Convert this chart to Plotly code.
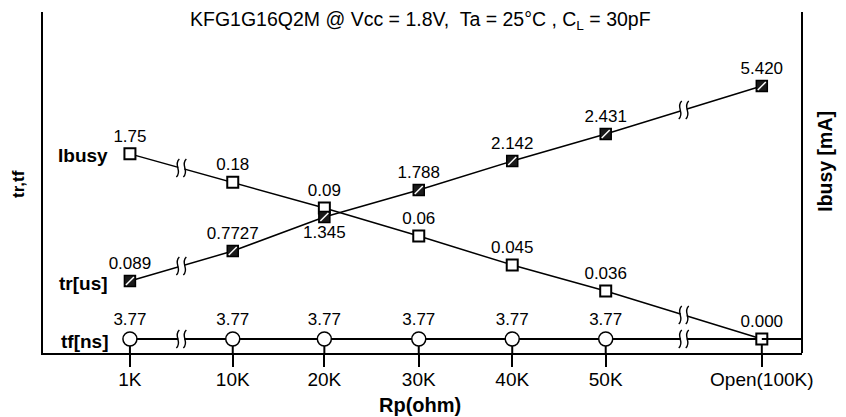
import plotly.graph_objects as go

# Rp categories and their (uneven) positions along the schematic x axis
rp_labels = ["1K", "10K", "20K", "30K", "40K", "50K", "Open(100K)"]
rp_pos = [0, 1.1, 2.08, 3.09, 4.09, 5.09, 6.76]

# measured values (printed next to the markers)
ibusy_vals = ["1.75", "0.18", "0.09", "0.06", "0.045", "0.036", "0.000"]
tr_vals = ["0.089", "0.7727", "1.345", "1.788", "2.142", "2.431", "5.420"]
tf_vals = ["3.77", "3.77", "3.77", "3.77", "3.77", "3.77"]

# schematic heights of each curve (the chart is not drawn to scale)
ibusy_lvl = [5.84, 5.01, 4.25, 3.43, 2.58, 1.82, 0.41]
tr_lvl = [2.11, 2.99, 3.99, 4.78, 5.63, 6.42, 7.83]
tf_lvl = [0.41, 0.41, 0.41, 0.41, 0.41, 0.41, 0.41]

X_RANGE = [-0.93, 7.19]
Y_RANGE = [0, 10]
FONT = "Liberation Sans, Arial, sans-serif"
VAL_SIZE = 17

fig = go.Figure()

# tf baseline, with a drop line from each point down to the axis
fig.add_trace(go.Scatter(
    x=rp_pos, y=tf_lvl, mode="lines", hoverinfo="skip",
    line=dict(color="black", width=2),
    error_y=dict(type="data", symmetric=False, array=[0] * len(tf_lvl),
                 arrayminus=tf_lvl, color="black", thickness=2, width=0),
))
# tf circles (none at Open, where the Ibusy square sits)
n_tf = len(tf_vals)
fig.add_trace(go.Scatter(
    x=rp_pos[:n_tf], y=tf_lvl[:n_tf], mode="markers+text",
    text=tf_vals, textposition="top center",
    textfont=dict(size=VAL_SIZE, color="black"),
    marker=dict(symbol="circle", size=14, color="white", opacity=1,
                line=dict(color="black", width=1.5)),
))

# Ibusy
fig.add_trace(go.Scatter(
    x=rp_pos, y=ibusy_lvl, mode="lines+markers+text",
    text=ibusy_vals, textposition="top center",
    textfont=dict(size=VAL_SIZE, color="black"),
    line=dict(color="black", width=1.5),
    marker=dict(symbol="square", size=11, color="white",
                line=dict(color="black", width=2)),
))

# tr
tr_textpos = ["top center"] * len(tr_vals)
tr_textpos[2] = "bottom center"
fig.add_trace(go.Scatter(
    x=rp_pos, y=tr_lvl, mode="lines+markers+text",
    text=tr_vals, textposition=tr_textpos,
    textfont=dict(size=VAL_SIZE, color="black"),
    line=dict(color="black", width=1.5),
    marker=dict(symbol="square", size=11, color="#1a1a1a",
                line=dict(color="black", width=1.5)),
))
# white diagonal stripe on the tr markers
fig.add_trace(go.Scatter(
    x=rp_pos, y=tr_lvl, mode="markers", hoverinfo="skip",
    marker=dict(symbol="line-ne", size=8, line=dict(color="white", width=1.5)),
))

shapes = [
    # tf line runs on to the right border
    dict(type="line", xref="x", yref="y", x0=rp_pos[-1], x1=X_RANGE[1],
         y0=tf_lvl[-1], y1=tf_lvl[-1], line=dict(color="black", width=2)),
    # right border
    dict(type="line", xref="paper", yref="paper", x0=1, x1=1, y0=0, y1=1,
         line=dict(color="black", width=2)),
]

# break marks ("≀≀") on the first and last segment of each curve
gap_path = "M -3,-5 L 3,-5 L 3,5 L -3,5 Z"
squiggle = "M {a},-9 C {b},-3 {c},3 {d},9"
for lvl in (ibusy_lvl, tr_lvl, tf_lvl):
    for i in (0, len(rp_pos) - 2):
        xm = (rp_pos[i] + rp_pos[i + 1]) / 2
        ym = (lvl[i] + lvl[i + 1]) / 2
        anchor = dict(xref="x", yref="y", xsizemode="pixel", ysizemode="pixel",
                      xanchor=xm, yanchor=ym)
        shapes.append(dict(type="path", path=gap_path, fillcolor="white",
                           line=dict(width=0), **anchor))
        for dx in (-3.5, 3.5):
            shapes.append(dict(
                type="path",
                path=squiggle.format(a=dx - 1.5, b=dx + 5, c=dx - 5, d=dx + 1.5),
                line=dict(color="black", width=1.4), **anchor))

annotations = []
# curve names at the left
for name, lvl in (("Ibusy", ibusy_lvl), ("tr[us]", tr_lvl), ("tf[ns]", tf_lvl)):
    annotations.append(dict(
        x=rp_pos[0], y=lvl[0], xref="x", yref="y", text=f"<b>{name}</b>",
        showarrow=False, xanchor="right", xshift=-20, yshift=-2,
        font=dict(family=FONT, size=19, color="black")))

annotations += [
    dict(x=0.498, y=0.9765, xref="paper", yref="paper", showarrow=False,
         xanchor="center", yanchor="middle",
         text="KFG1G16Q2M @ Vcc = 1.8V,  Ta = 25°C , C<sub>L</sub> = 30pF",
         font=dict(family=FONT, size=19.5, color="black")),
    dict(x=0.497, y=-0.152, xref="paper", yref="paper", showarrow=False,
         xanchor="center", yanchor="middle",
         text="<b>Rp(ohm)</b>", font=dict(family=FONT, size=20, color="black")),
    dict(x=-0.0316, y=0.481, xref="paper", yref="paper", showarrow=False,
         xanchor="center", yanchor="middle", yshift=5,
         text="<b>tr,tf</b>", textangle=-90,
         font=dict(family=FONT, size=17, color="black")),
    dict(x=1.030, y=0.563, xref="paper", yref="paper", showarrow=False,
         xanchor="center", yanchor="middle",
         text="<b>Ibusy [mA]</b>", textangle=-90,
         font=dict(family=FONT, size=19.5, color="black")),
]

fig.update_layout(
    width=846, height=417,
    margin=dict(l=43, r=44, t=12, b=64),
    paper_bgcolor="white", plot_bgcolor="white",
    showlegend=False,
    font=dict(family=FONT, color="black"),
    shapes=shapes, annotations=annotations,
    xaxis=dict(range=X_RANGE, tickvals=rp_pos, ticktext=rp_labels,
               ticks="outside", ticklen=12, tickwidth=2, tickcolor="black",
               ticklabelstandoff=-4,
               showline=True, linewidth=2, linecolor="black",
               showgrid=False, zeroline=False,
               tickfont=dict(family=FONT, size=19, color="black")),
    yaxis=dict(range=Y_RANGE, showline=True, linewidth=2, linecolor="black",
               showticklabels=False, ticks="", showgrid=False, zeroline=False),
)

# drop the default page margin so the figure sits at the window corner
fig.write_html("out.html", config={"displayModeBar": False},
               post_script="document.body.style.margin='0';")
